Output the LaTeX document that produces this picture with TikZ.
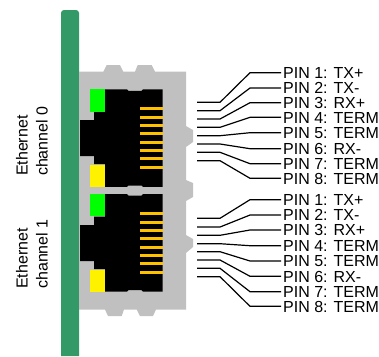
\documentclass[tikz,border=0pt]{standalone}
\usepackage{fontspec}
\setmainfont{Liberation Sans}
\usetikzlibrary{positioning}
\definecolor{mboard}{HTML}{339966}
\definecolor{mhousing}{HTML}{C0C0C0}
\definecolor{mgold}{HTML}{FFC000}
\tikzset{wire/.style = {draw, line width=1.2pt}}
\tikzset{pinline/.style = {draw=mgold, line width=3pt}}
\tikzset{pinlabel/.style = {anchor=west, inner xsep=2pt, inner ysep=0pt, text height=11.5pt, text depth=0pt,
                            font=\fontsize{16}{20}\selectfont}}
\tikzset{channel/.style = {rotate=90, align=left, inner sep=0pt,
                           font=\fontsize{16}{20}\selectfont}}
\tikzset{port/.style = {fill=black}}

\begin{document}
\begin{tikzpicture}[x=1pt, y=-1pt]
      \useasboundingbox (0,0) rectangle (379,356);
      \fill[mboard] (61,356) [rounded corners=3pt] -- (61,10) -- (79,10) [sharp corners] -- (79,356) -- cycle;
      \fill[mhousing] (79,71.7) -- (103.3,71.7) -- (106.7,65) -- (120,65) -- (123.3,71.7)
        -- (135,71.7) -- (137.7,65) -- (151.7,65) -- (155,71.7) -- (186,71.7)
        -- (186,126) -- (193,130) -- (193,142) -- (186,147)
        -- (186,180) -- (193,183) -- (193,197) -- (186,201)
        -- (186,235) -- (193,239) -- (193,247) -- (186,253)
        -- (186,309.5) -- (156,309.5) -- (153,316) -- (140,316) -- (136.7,309.5)
        -- (124,309.5) -- (121.7,316) -- (108,316) -- (105,309.5) -- (79,309.5) -- cycle;
      \fill[port] (105,89.3) -- (127,89.3) -- (128.5,90.8) -- (141.5,90.8) -- (143,89.3) -- (162.5,89.3)
        -- (162.5,186.8) -- (143,186.8) -- (141.5,185.5) -- (128.5,185.5) -- (127,186.8) -- (105,186.8)
        -- (105,164) -- (94,164) -- (94,156) -- (80,156) -- (80,120) -- (94,120) -- (94,111.7) -- (105,111.7) -- cycle;
      \fill[port] (105,194) -- (127,194) -- (128.5,195.5) -- (141.5,195.5) -- (143,194) -- (162.5,194)
        -- (162.5,291.7) -- (143,291.7) -- (141.5,290.2) -- (128.5,290.2) -- (127,291.7) -- (105,291.7)
        -- (105,269) -- (94,269) -- (94,261) -- (80,261) -- (80,225) -- (94,225) -- (94,216.7) -- (105,216.7) -- cycle;
      \fill[green] (90,89.3) rectangle (105,111.5);
      \fill[yellow] (90,164.5) rectangle (105,186.8);
      \fill[green] (90,194) rectangle (105,216.3);
      \fill[yellow] (90,269.7) rectangle (105,291.7);
      \path[pinline] (140,108.7) -- (162.5,108.7) (140,117) -- (162.5,117)
        (140,125.3) -- (162.5,125.3) (140,133.7) -- (162.5,133.7)
        (140,142) -- (162.5,142) (140,150.3) -- (162.5,150.3)
        (140,158.7) -- (162.5,158.7) (140,167) -- (162.5,167);
      \path[pinline] (140,213.7) -- (162.5,213.7) (140,222) -- (162.5,222)
        (140,230.3) -- (162.5,230.3) (140,238.7) -- (162.5,238.7)
        (140,247) -- (162.5,247) (140,255.3) -- (162.5,255.3)
        (140,263.7) -- (162.5,263.7) (140,272) -- (162.5,272);
      \node[channel] (eth0) at (32,141.3) {Ethernet\\channel 0};
      \node[channel] (eth1) at (32,254) {Ethernet\\channel 1};
      \coordinate (kn) at (250,0);
      \node[pinlabel] (p01) at (281,72.7) {PIN 1: TX+};
      \node[pinlabel] (p02) at (281,88) {PIN 2: TX-};
      \node[pinlabel] (p03) at (281,102.7) {PIN 3: RX+};
      \node[pinlabel] (p04) at (281,117.3) {PIN 4: TERM};
      \node[pinlabel] (p05) at (281,132.7) {PIN 5: TERM};
      \node[pinlabel] (p06) at (281,148.7) {PIN 6: RX-};
      \node[pinlabel] (p07) at (281,163.7) {PIN 7: TERM};
      \node[pinlabel] (p08) at (281,178.3) {PIN 8: TERM};
      \node[pinlabel] (p11) at (281,199.7) {PIN 1: TX+};
      \node[pinlabel] (p12) at (281,215) {PIN 2: TX-};
      \node[pinlabel] (p13) at (281,230) {PIN 3: RX+};
      \node[pinlabel] (p14) at (281,245.7) {PIN 4: TERM};
      \node[pinlabel] (p15) at (281,261) {PIN 5: TERM};
      \node[pinlabel] (p16) at (281,276.3) {PIN 6: RX-};
      \node[pinlabel] (p17) at (281,291.7) {PIN 7: TERM};
      \node[pinlabel] (p18) at (281,306.3) {PIN 8: TERM};
      \coordinate (w01) at (197,102.3);
      \coordinate (w02) at (197,110.7);
      \coordinate (w03) at (197,119);
      \coordinate (w04) at (197,127.3);
      \coordinate (w05) at (197,135.7);
      \coordinate (w06) at (197,144);
      \coordinate (w07) at (197,152.3);
      \coordinate (w08) at (197,160.7);
      \coordinate (w11) at (197,218.3);
      \coordinate (w12) at (197,227);
      \coordinate (w13) at (197,235.3);
      \coordinate (w14) at (197,243.7);
      \coordinate (w15) at (197,251.7);
      \coordinate (w16) at (197,260);
      \coordinate (w17) at (197,268.3);
      \coordinate (w18) at (197,276.7);
      \draw[wire] (w01) -- ++(23,0) -- (p01 -| kn) -- (p01);
      \draw[wire] (w02) -- ++(23,0) -- (p02 -| kn) -- (p02);
      \draw[wire] (w03) -- ++(23,0) -- (p03 -| kn) -- (p03);
      \draw[wire] (w04) -- ++(23,0) -- (p04 -| kn) -- (p04);
      \draw[wire] (w05) -- ++(23,0) -- (p05 -| kn) -- (p05);
      \draw[wire] (w06) -- ++(23,0) -- (p06 -| kn) -- (p06);
      \draw[wire] (w07) -- ++(23,0) -- (p07 -| kn) -- (p07);
      \draw[wire] (w08) -- ++(23,0) -- (p08 -| kn) -- (p08);
      \draw[wire] (w11) -- ++(23,0) -- (p11 -| kn) -- (p11);
      \draw[wire] (w12) -- ++(23,0) -- (p12 -| kn) -- (p12);
      \draw[wire] (w13) -- ++(23,0) -- (p13 -| kn) -- (p13);
      \draw[wire] (w14) -- ++(23,0) -- (p14 -| kn) -- (p14);
      \draw[wire] (w15) -- ++(23,0) -- (p15 -| kn) -- (p15);
      \draw[wire] (w16) -- ++(23,0) -- (p16 -| kn) -- (p16);
      \draw[wire] (w17) -- ++(23,0) -- (p17 -| kn) -- (p17);
      \draw[wire] (w18) -- ++(23,0) -- (p18 -| kn) -- (p18);
    \end{tikzpicture}
\end{document}
